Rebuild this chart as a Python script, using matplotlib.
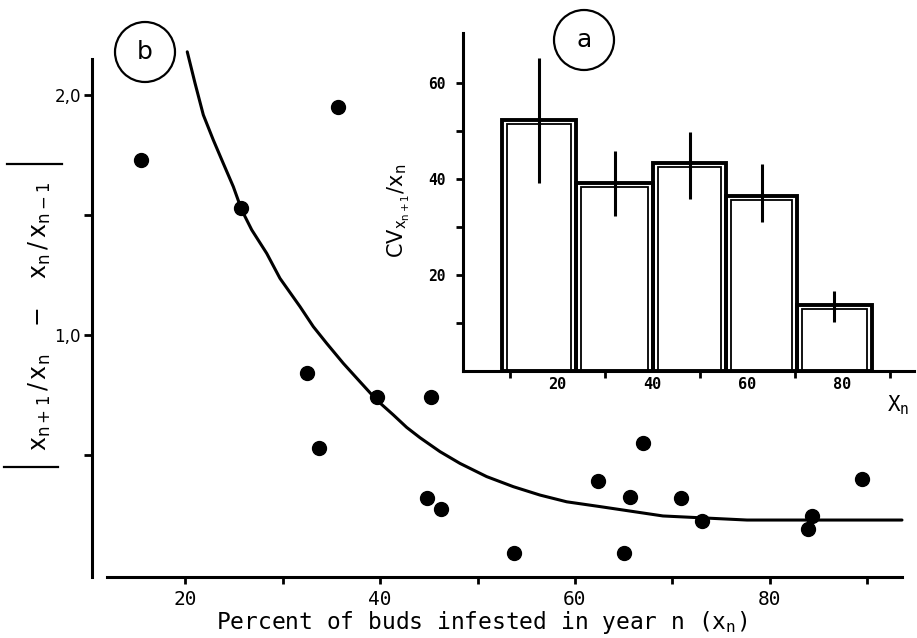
import matplotlib
matplotlib.use("Agg")
import matplotlib.pyplot as plt
from matplotlib.lines import Line2D
import numpy as np

# ---- data ----
# panel b: scatter of |x(n+1)/x(n) - x(n)/x(n-1)| against x(n)
pts_x = [15.4, 25.7, 35.7, 32.5, 33.7, 39.7, 45.2, 44.8, 46.2, 53.7,
         62.4, 67.0, 65.6, 65.0, 70.9, 73.0, 84.3, 83.9, 89.5]
pts_y = [1.73, 1.53, 1.95, 0.84, 0.53, 0.74, 0.74, 0.32, 0.275, 0.09,
         0.39, 0.55, 0.325, 0.09, 0.32, 0.225, 0.245, 0.19, 0.40]

# fitted curve, points
curve_x = [20.19, 20.99, 21.84, 22.86, 23.89, 24.92, 25.78, 26.81, 28.35, 29.71,
           31.77, 33.13, 34.51, 36.21, 37.93, 39.64, 41.35, 42.72, 44.09, 46.14,
           48.19, 50.93, 53.67, 56.41, 59.15, 62.57, 69.03, 77.66, 84.43, 93.57]
curve_y = [2.180, 2.049, 1.917, 1.813, 1.715, 1.618, 1.521, 1.438, 1.340, 1.236,
           1.118, 1.035, 0.965, 0.882, 0.805, 0.729, 0.667, 0.615, 0.572, 0.514,
           0.465, 0.410, 0.368, 0.333, 0.305, 0.285, 0.246, 0.229, 0.229, 0.229]

# panel a: CV histogram
bin_left = [8.3, 23.9, 40.1, 55.5, 70.4]
bin_right = [23.9, 40.1, 55.5, 70.4, 86.2]
cv_mean = [52.3, 39.2, 43.3, 36.5, 13.7]
cv_low = [39.2, 32.3, 35.8, 31.0, 10.2]
cv_high = [65.2, 45.8, 49.8, 43.1, 16.7]

W, H = 917, 638
fig = plt.figure(figsize=(W / 100, H / 100), dpi=100)
mono = "DejaVu Sans Mono"


def fx(px):
    return px / W


def fy(py):
    return 1 - py / H


# ---- main panel (b) ----
# pixel mapping: px = 88 + (x-10)*9.74 ; py = 575 - y*240
ax = fig.add_axes([0, 0, 1, 1])
ax.set_xlim(10 - 88 / 9.74, 10 + (W - 88) / 9.74)
ax.set_ylim((575 - H) / 240, 575 / 240)
ax.patch.set_alpha(0)

ax.plot(curve_x, curve_y, color="black", lw=2.2, zorder=3,
        solid_joinstyle="round", solid_capstyle="round")
ax.plot(pts_x, pts_y, "o", color="black", ms=10, zorder=4)

for s in ["top", "right"]:
    ax.spines[s].set_visible(False)
ax.spines["left"].set_position(("data", 10.4))
ax.spines["left"].set_bounds(-0.01, 2.15)
ax.spines["bottom"].set_position(("data", -0.01))
ax.spines["bottom"].set_bounds(12, 93.6)
ax.spines["left"].set_linewidth(2.2)
ax.spines["bottom"].set_linewidth(2.2)

ax.set_xticks([20, 30, 40, 50, 60, 70, 80, 90])
ax.set_xticklabels(["20", "", "40", "", "60", "", "80", ""])
ax.set_yticks([0.5, 1.0, 1.5, 2.0])
ax.set_yticklabels(["", "1,0", "", "2,0"])
ax.tick_params(axis="x", direction="out", length=5, width=2, labelsize=14, pad=4)
ax.tick_params(axis="y", direction="out", length=6, width=2, labelsize=12, pad=2)
for t in ax.get_xticklabels():
    t.set_family(mono)

fig.text(fx(482), fy(622), r"Percent of buds infested in year n (x$_\mathregular{n}$)",
         ha="center", va="center", fontsize=16.5, family=mono)

# y label with absolute-value bars
fig.text(fx(40), fy(316),
         r"$\mathrm{x}_{\mathrm{n+1}}\,/\,\mathrm{x}_{\mathrm{n}}\quad-\quad"
         r"\mathrm{x}_{\mathrm{n}}\,/\,\mathrm{x}_{\mathrm{n-1}}$",
         rotation=90, ha="center", va="center", fontsize=17)
fig.add_artist(Line2D([fx(7), fx(62)], [fy(164), fy(164)], color="black", lw=1.6))
fig.add_artist(Line2D([fx(4), fx(58)], [fy(467), fy(467)], color="black", lw=1.6))

fig.text(fx(145), fy(52), "b", ha="center", va="center", fontsize=18,
         bbox=dict(boxstyle="circle,pad=0.72", fc="white", ec="black", lw=1.6))

# ---- inset panel (a) ----
# pixel mapping: px = 462.5 + x*4.75 ; py = 371 - v*4.8
ins = fig.add_axes([fx(462.5), fy(371), 95 * 4.75 / W, 71 * 4.8 / H])
ins.set_xlim(0, 95)
ins.set_ylim(0, 71)
ins.patch.set_alpha(0)

left = np.array(bin_left)
right = np.array(bin_right)
mean = np.array(cv_mean)
dx, dy = 5 / 4.75, 4 / 4.8   # inner outline offset in data units

ins.bar(left, mean, width=right - left, align="edge", fill=False,
        edgecolor="black", lw=2.8, zorder=2)
ins.bar(left + dx, mean - dy, width=right - left - 2 * dx, align="edge", fill=False,
        edgecolor="black", lw=1.3, zorder=2)
ins.vlines((left + right) / 2, cv_low, cv_high, color="black", lw=2.2, zorder=3)

for s in ["top", "right"]:
    ins.spines[s].set_visible(False)
ins.spines["left"].set_bounds(0, 70.5)
ins.spines["left"].set_linewidth(2.2)
ins.spines["bottom"].set_linewidth(2.2)

ins.set_yticks([20, 40, 60])
ins.set_yticks([10, 30, 50], minor=True)
ins.set_xticks([20, 40, 60, 80])
ins.set_xticks([10, 30, 50, 70, 90], minor=True)
ins.tick_params(axis="y", which="both", direction="out", length=5, width=2,
                labelsize=10.5, pad=7)
ins.tick_params(axis="x", which="major", direction="out", length=0, labelsize=11, pad=4)
ins.tick_params(axis="x", which="minor", direction="out", length=5, width=2)
for t in ins.get_xticklabels() + ins.get_yticklabels():
    t.set_family(mono)
    t.set_fontweight("bold")

fig.text(fx(399), fy(211),
         r"$\mathrm{CV}_{\mathrm{x}_{\mathrm{n+1}}}/\mathrm{x}_{\mathrm{n}}$",
         rotation=90, ha="center", va="center", fontsize=15)
fig.text(fx(898), fy(405), r"X$_\mathregular{n}$", ha="center", va="center",
         fontsize=15, family=mono)

fig.text(fx(584), fy(40), "a", ha="center", va="center", fontsize=18,
         bbox=dict(boxstyle="circle,pad=0.72", fc="white", ec="black", lw=1.6))

fig.savefig("out.png", dpi=100)
